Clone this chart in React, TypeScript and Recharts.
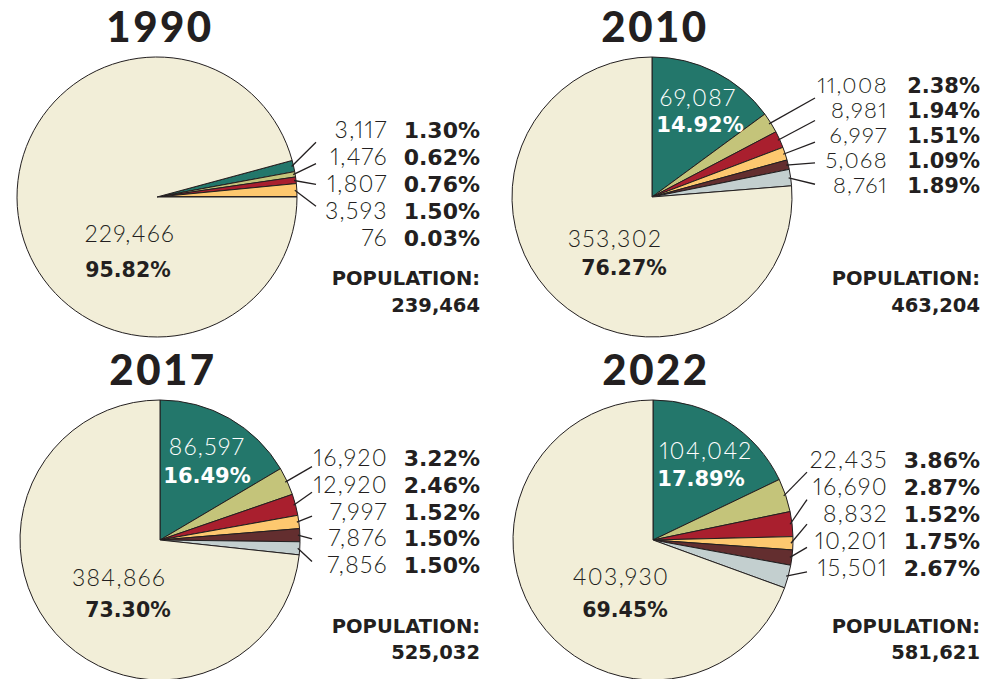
import { Cell, Pie, PieChart } from "recharts";

// Four population pies (1990, 2010, 2017, 2022). Slice order is clockwise:
// six smaller groups first, then the largest group last.
const years = ["1990", "2010", "2017", "2022"];
const groups = ["Group 1", "Group 2", "Group 3", "Group 4", "Group 5", "Group 6", "Largest group"];
const colors = ["#23776b", "#c4c47a", "#a91f2e", "#fdc86f", "#632e2f", "#c3cfcf", "#f2eed8"];

const counts1990 = [3117, 1476, 1807, 3593, 76, 0, 229466];
const counts2010 = [69087, 11008, 8981, 6997, 5068, 8761, 353302];
const counts2017 = [86597, 16920, 12920, 7997, 7876, 7856, 384866];
const counts2022 = [104042, 22435, 16690, 8832, 10201, 15501, 403930];

const shares1990 = [1.3, 0.62, 0.76, 1.5, 0.03, 0, 95.82];
const shares2010 = [14.92, 2.38, 1.94, 1.51, 1.09, 1.89, 76.27];
const shares2017 = [16.49, 3.22, 2.46, 1.52, 1.5, 1.5, 73.3];
const shares2022 = [17.89, 3.86, 2.87, 1.52, 1.75, 2.67, 69.45];

const populations = [239464, 463204, 525032, 581621];

const INK = "#231f20";
const LIGHT = "Lato, 'Open Sans', sans-serif";
const BOLD = "'DejaVu Sans', Verdana, sans-serif";
const R = 140;

// light figures: Lato Light, proportional digits, opened up a little to read like Gotham
const lightText = {
  fontFamily: LIGHT,
  fontWeight: 300,
  letterSpacing: 1.4,
  style: { fontVariantNumeric: "proportional-nums" as const, fontFeatureSettings: '"pnum" 1' },
};
const boldText = { fontFamily: BOLD, fontWeight: 700 } as const;

type Slice = { name: string; value: number; share: number; color: string; row: number; inside: boolean };

// offsets of the in-pie labels from the pie centre: [numX, numY, pctX, pctY]
type Offs = [number, number, number, number];

type Panel = {
  year: string;
  population: number;
  x: number;
  cx: number;
  cy: number;
  rowTop: number;
  rowGap: number;
  rowSize: number;
  lineEnd: number;
  tealInside: boolean;
  big: Offs;
  teal: Offs;
  slices: Slice[];
};

function buildSlices(counts: number[], shares: number[], tealInside: boolean): Slice[] {
  const out: Slice[] = [];
  let row = 0;
  counts.forEach((v, i) => {
    if (!v) return;
    const last = i === counts.length - 1;
    const inside = last || (i === 0 && tealInside);
    out.push({
      name: groups[i],
      value: v,
      share: shares[i],
      color: colors[i],
      row: inside ? -1 : row++,
      inside,
    });
  });
  return out;
}

const fmt = (n: number) => n.toLocaleString("en-US");
const pct = (n: number) => n.toFixed(2) + "%";

const panels: Panel[] = [
  {
    year: years[0], population: populations[0], x: 0, cx: 157, cy: 197,
    rowTop: 138, rowGap: 27, rowSize: 23, lineEnd: 316, tealInside: false,
    big: [-27, 45, -29, 80], teal: [0, 0, 0, 0],
    slices: buildSlices(counts1990, shares1990, false),
  },
  {
    year: years[1], population: populations[1], x: 500, cx: 652, cy: 197,
    rowTop: 93, rowGap: 25, rowSize: 22, lineEnd: 315, tealInside: true,
    big: [-37, 50, -28, 78], teal: [46, -91, 48, -65],
    slices: buildSlices(counts2010, shares2010, true),
  },
  {
    year: years[2], population: populations[2], x: 0, cx: 160, cy: 540,
    rowTop: 466, rowGap: 26.8, rowSize: 23, lineEnd: 312, tealInside: true,
    big: [-41, 46, -32, 77], teal: [47, -85, 47, -57],
    slices: buildSlices(counts2017, shares2017, true),
  },
  {
    year: years[3], population: populations[3], x: 500, cx: 653, cy: 540,
    rowTop: 468, rowGap: 27, rowSize: 23, lineEnd: 307, tealInside: true,
    big: [-32, 45, -28, 77], teal: [53, -81, 48, -54],
    slices: buildSlices(counts2022, shares2022, true),
  },
];

function makeLabel(p: Panel) {
  return (props: any) => {
    const { cx, cy, midAngle, outerRadius, index } = props;
    const s = p.slices[index];
    if (!s) return null;
    const last = index === p.slices.length - 1;
    if (s.inside) {
      const o = last ? p.big : p.teal;
      const c = last ? INK : "#fff";
      return (
        <g>
          <text x={cx + o[0]} y={cy + o[1]} textAnchor="middle" fill={c} fontSize={23} {...lightText}>
            {fmt(s.value)}
          </text>
          <text x={cx + o[2]} y={cy + o[3]} textAnchor="middle" fill={c} fontSize={last ? 20.5 : 21} {...boldText}>
            {pct(s.share)}
          </text>
        </g>
      );
    }
    const rad = (Math.PI / 180) * midAngle;
    const sx = cx + (outerRadius - 2) * Math.cos(rad);
    const sy = cy - (outerRadius - 2) * Math.sin(rad);
    const ry = p.rowTop + s.row * p.rowGap;
    // leader ends beside the row, pulled a little toward its slice
    const ey = ry - 6 + (sy - (ry - 6)) * 0.3;
    return (
      <g>
        {s.share >= 0.1 && <line x1={sx} y1={sy} x2={p.x + p.lineEnd} y2={ey} stroke={INK} strokeWidth={1.3} />}
        <text x={p.x + 388} y={ry} textAnchor="end" fill={INK} fontSize={p.rowSize} {...lightText}>
          {fmt(s.value)}
        </text>
        <text x={p.x + 480} y={ry} textAnchor="end" fill={INK} fontSize={p.rowSize - 1} {...boldText}>
          {pct(s.share)}
        </text>
      </g>
    );
  };
}

export default function App() {
  return (
    <div style={{ position: "fixed", left: 0, top: 0, width: 1002, height: 679, background: "#fff" }}>
      <PieChart width={1002} height={679} margin={{ top: 0, right: 0, bottom: 0, left: 0 }}>
        {panels.map((p) => {
          const total = p.slices.reduce((a, s) => a + s.value, 0);
          const small = total - p.slices[p.slices.length - 1].value;
          // 1990 has its small groups sitting just above 3 o'clock; the rest start at 12
          const start = p.tealInside ? 90 : (360 * small) / total;
          return (
            <Pie
              key={p.year}
              data={p.slices}
              dataKey="value"
              nameKey="name"
              cx={p.cx}
              cy={p.cy}
              outerRadius={R}
              startAngle={start}
              endAngle={start - 360}
              stroke={INK}
              strokeWidth={1}
              label={makeLabel(p)}
              labelLine={false}
              isAnimationActive={false}
            >
              {p.slices.map((s) => (
                <Cell key={s.name} fill={s.color} />
              ))}
            </Pie>
          );
        })}
      </PieChart>
      <svg width={1002} height={679} style={{ position: "absolute", left: 0, top: 0, pointerEvents: "none" }}>
        {panels.map((p) => {
          const top = p.cy < 300;
          return (
            <g key={p.year} fill={INK}>
              <text x={p.cx + 3} y={top ? 42 : 385} textAnchor="middle" fontFamily={LIGHT} fontWeight={900} fontSize={42} letterSpacing={2.5}>
                {p.year}
              </text>
              <text x={p.x + 480} y={top ? 285 : 633} textAnchor="end" fontSize={19.5} {...boldText}>
                POPULATION:
              </text>
              <text x={p.x + 480} y={top ? 312 : 659} textAnchor="end" fontSize={19.5} {...boldText}>
                {fmt(p.population)}
              </text>
            </g>
          );
        })}
      </svg>
    </div>
  );
}
